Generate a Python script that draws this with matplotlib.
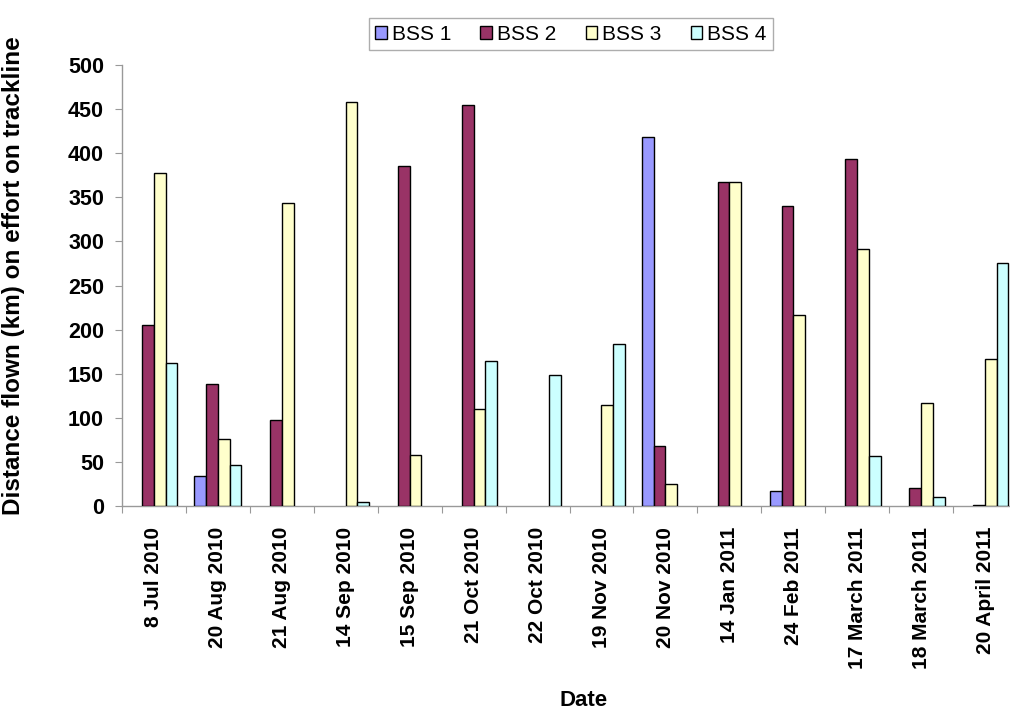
import matplotlib
matplotlib.use("Agg")
import matplotlib.pyplot as plt
import numpy as np

plt.rcParams['font.family'] = ['Liberation Sans', 'DejaVu Sans']

dates = ["8 Jul 2010", "20 Aug 2010", "21 Aug 2010", "14 Sep 2010", "15 Sep 2010",
         "21 Oct 2010", "22 Oct 2010", "19 Nov 2010", "20 Nov 2010", "14 Jan 2011",
         "24 Feb 2011", "17 March 2011", "18 March 2011", "20 April 2011"]
bss1 = [0, 34, 0, 0, 0, 0, 0, 0, 418, 0, 17, 0, 0, 0]
bss2 = [205, 138, 98, 0, 386, 455, 0, 0, 68, 367, 340, 393, 20, 1]
bss3 = [377, 76, 344, 458, 58, 110, 0, 114, 25, 367, 216, 291, 117, 167]
bss4 = [162, 47, 0, 5, 0, 164, 149, 184, 0, 0, 0, 57, 10, 275]
series = [bss1, bss2, bss3, bss4]
names = ["BSS 1", "BSS 2", "BSS 3", "BSS 4"]
colors = ["#9999FF", "#993366", "#FFFFCC", "#CCFFFF"]

fig = plt.figure(figsize=(10.10, 7.15), dpi=100)
ax = fig.add_axes([122/1010, 1-506/715, 895/1010, (506-65)/715])

x = np.arange(len(dates))
w = 0.183
for i, (vals, nm, c) in enumerate(zip(series, names, colors)):
    v = np.array(vals, dtype=float)
    v[v == 0] = np.nan
    ax.bar(x + (i - 1.5) * w, v, width=w, color=c, edgecolor="black",
           linewidth=1.0, label=nm, zorder=3)

ax.set_xlim(-0.5, len(dates) - 0.5)
ax.set_ylim(0, 500)
ax.set_yticks(np.arange(0, 501, 50))
ax.set_xticks(np.arange(-0.5, len(dates) - 0.4, 1.0), minor=False)
ax.set_xticklabels([])
ax.set_xticks(x, minor=True)
ax.set_xticklabels(dates, minor=True, rotation=90, fontsize=15, fontweight="bold")
ax.tick_params(axis="x", which="minor", length=0, pad=15)
ax.tick_params(axis="x", which="major", length=5, color="#999999", direction="out")
ax.tick_params(axis="y", length=5, color="#999999", direction="out", labelsize=15.5, pad=8)
for lab in ax.get_yticklabels():
    lab.set_fontweight("bold")

for s in ["top", "right"]:
    ax.spines[s].set_visible(False)
for s in ["left", "bottom"]:
    ax.spines[s].set_color("#999999")
    ax.spines[s].set_linewidth(1.0)

ax.set_xlabel("Date", fontsize=16, fontweight="bold")
ax.set_ylabel("Distance flown (km) on effort on trackline", fontsize=17.5,
              fontweight="bold")
ax.xaxis.set_label_coords((584 - 122) / 895, -(690 - 506) / 441)
ax.yaxis.set_label_coords(-(122 - 25) / 895, (506 - 276) / 441)

leg = fig.legend(loc="upper center", bbox_to_anchor=(571/1010, 1 - 8/715), ncol=4,
                 fontsize=15, frameon=True, fancybox=False, edgecolor="#999999",
                 handlelength=0.55, handleheight=0.55, handletextpad=0.25,
                 columnspacing=1.4, borderpad=0.3)
leg.get_frame().set_linewidth(1.0)

fig.savefig("out.png", dpi=100, facecolor="white")
